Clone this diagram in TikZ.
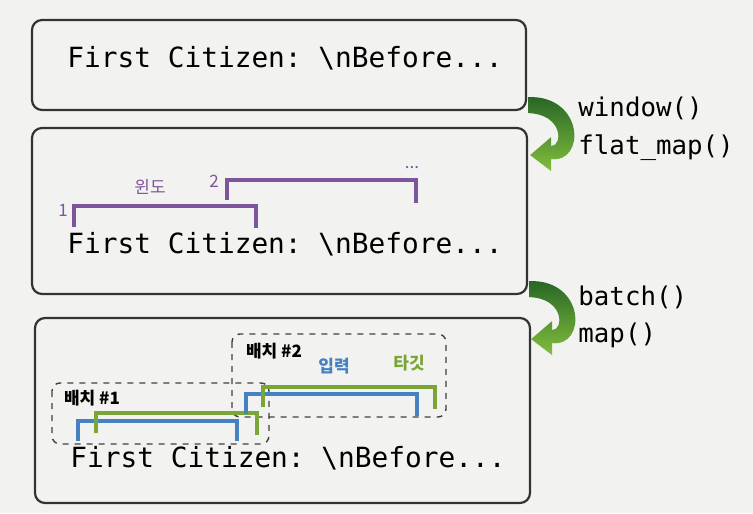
\documentclass[tikz,border=0pt]{standalone}
\usepackage{fontspec}
\setmonofont{DejaVu Sans Mono}
\newfontfamily\kofont{Noto Sans CJK KR}
\usepackage{tikz}
\usetikzlibrary{positioning}
\definecolor{paper}{RGB}{242,242,240}
\definecolor{winpurple}{RGB}{125,85,155}
\definecolor{inblue}{RGB}{70,130,195}
\definecolor{tggreen}{RGB}{122,165,55}
\definecolor{arrowdark}{RGB}{38,100,38}
\definecolor{arrowlight}{RGB}{130,190,60}

\begin{document}
\begin{tikzpicture}[%
x=0.5pt,y=-0.5pt,%
box/.style={draw=black!80,line width=1.1pt,rounded corners=5pt,inner sep=0},%
code/.style={font=\ttfamily\fontsize{13.9}{17}\selectfont,inner sep=0},%
op/.style={font=\ttfamily\fontsize{12.9}{15}\selectfont,anchor=west,inner sep=0},%
lab/.style={font=\kofont\fontsize{8.5}{10}\selectfont,inner sep=0},%
blab/.style={lab,font=\kofont\bfseries\fontsize{8.5}{10}\selectfont},%
win/.style={draw=winpurple,line width=2.4pt},%
inp/.style={draw=inblue,line width=2.4pt},%
tgt/.style={draw=tggreen,line width=2.4pt},%
batchbox/.style={draw=black!75,dashed,line width=0.7pt,rounded corners=4pt},%
flow/.style={top color=arrowdark,bottom color=arrowlight,draw=none},%
  ]
    \useasboundingbox (0,0) rectangle (753,513);
    \fill[paper] (0,0) rectangle (753,513);

    % the three stages
    \node[box,minimum width=247pt,minimum height=45pt] (b1) at (279,65) {};
    \node[box,minimum width=247.5pt,minimum height=83pt] (b2) at (279.5,211) {};
    \node[box,minimum width=247.5pt,minimum height=92.5pt] (b3) at (282.5,410.5) {};

    \node[code] (t1) at (285,58) {First Citizen: {\textbackslash}nBefore...};
    \node[code] (t2) at (285,244) {First Citizen: {\textbackslash}nBefore...};
    \node[code] (t3) at (288,458) {First Citizen: {\textbackslash}nBefore...};

    % arrows between the stages
    \foreach \b in {b1,b2}
        \shade[flow,shift={(\b.south east)}] (1,-14) .. controls (57,-16) and (59,52) .. (24,48)
            -- (24,60) -- (3,44) -- (24,26) -- (24,35)
            .. controls (36,35) and (36,3) .. (1,2) -- cycle;

    \node[op] (l1) at (578,108) {window()};
    \node[op] (l2) at (578,148) {flat\_map()};
    \node[op] (l3) at (578,297) {batch()};
    \node[op] (l4) at (578,335) {map()};

    % windows
    \draw[win] (74,227) |- (256,206) -- (256,228);
    \draw[win] (227,200) |- (416,180) -- (416,203);
    \node[lab,text=winpurple] (w0) at (150,187) {윈도};
    \node[lab,text=winpurple] (n1) at (63,210) {1};
    \node[lab,text=winpurple] (n2) at (214,181) {2};
    \node[lab,text=winpurple] (dots) at (412,168) {...};

    % batches
    \draw[batchbox] (52,383) rectangle (269,444);
    \draw[batchbox] (232,334) rectangle (446,417);
    \node[blab] (bt1) at (92,398) {배치 \#1};
    \node[blab] (bt2) at (274,351) {배치 \#2};

    \draw[inp] (78,441) |- (237,421) -- (237,441);
    \draw[tgt] (96,433) |- (257,413) -- (257,435);
    \draw[inp] (246,414) |- (417,394) -- (417,416);
    \draw[tgt] (263,407) |- (435,387) -- (435,409);
    \node[blab,text=inblue] (in) at (334,366) {입력};
    \node[blab,text=tggreen] (tg) at (409,363) {타깃};
  \end{tikzpicture}
\end{document}
